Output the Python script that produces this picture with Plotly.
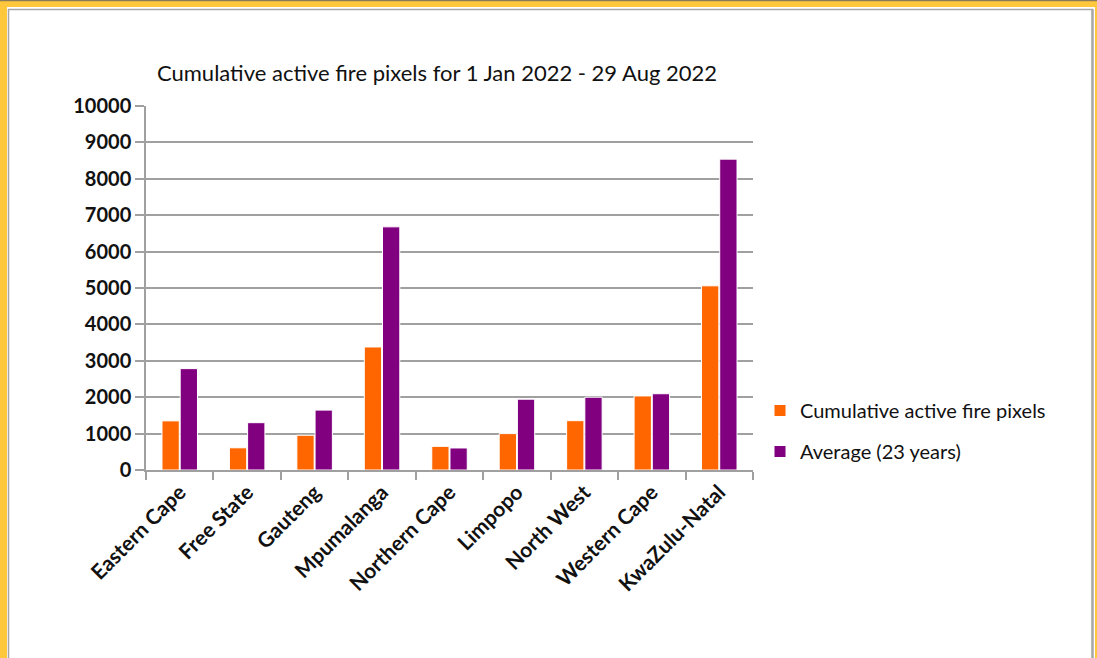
import plotly.graph_objects as go

provinces = ["Eastern Cape", "Free State", "Gauteng", "Mpumalanga", "Northern Cape",
             "Limpopo", "North West", "Western Cape", "KwaZulu-Natal"]
cumulative_2022 = [1350, 610, 955, 3380, 650, 1000, 1355, 2035, 5060]
average_23y = [2785, 1300, 1645, 6680, 605, 1945, 2000, 2095, 8540]
y_ticks = [0, 1000, 2000, 3000, 4000, 5000, 6000, 7000, 8000, 9000, 10000]

W, H = 1097, 658
L, R, T, B = 146, 344, 106, 188
PW, PH = W - L - R, H - T - B

def px(x):
    return (x - L) / PW

def py(y):
    return (H - B - y) / PH

fig = go.Figure()
fig.add_trace(go.Bar(x=provinces, y=cumulative_2022, name="Cumulative active fire pixels",
                     legendgroup="a",
                     marker=dict(color="#FF6600", line=dict(color="white", width=1))))
fig.add_trace(go.Bar(x=provinces, y=average_23y, name="Average (23 years)",
                     legendgroup="b",
                     marker=dict(color="#800080", line=dict(color="white", width=1))))

shapes = [
    dict(type="rect", xref="paper", yref="paper", x0=px(7), x1=px(1095), y0=py(7), y1=py(700),
         fillcolor="white", line=dict(width=0), layer="below"),
    dict(type="line", xref="paper", yref="paper", x0=px(8.5), x1=px(8.5), y0=py(9), y1=py(700),
         line=dict(color="#A6A6A6", width=1.5), layer="below"),
    dict(type="line", xref="paper", yref="paper", x0=px(8), x1=px(1093), y0=py(9.5), y1=py(9.5),
         line=dict(color="#A6A6A6", width=1.5), layer="below"),
    dict(type="line", xref="paper", yref="paper", x0=px(1092.5), x1=px(1092.5), y0=py(9), y1=py(700),
         line=dict(color="#A6A6A6", width=2.5), layer="below"),
    dict(type="line", xref="paper", yref="paper", x0=0 - L / PW, x1=px(1097), y0=py(0.5), y1=py(0.5),
         line=dict(color="#8A7A5A", width=1.5), layer="below"),
]

fig.update_layout(
    width=W, height=H,
    margin=dict(l=L, r=R, t=T, b=B),
    paper_bgcolor="#FFC83C",
    plot_bgcolor="rgba(0,0,0,0)",
    barmode="group", bargap=0.46, bargroupgap=0.05,
    title=dict(text="Cumulative active fire pixels for 1 Jan 2022 - 29 Aug 2022",
               x=px(437), xanchor="center", xref="paper",
               y=1 - 73 / H, yanchor="middle", yref="container",
               font=dict(family="Lato", size=22, color="#111111")),
    font=dict(family="Lato", color="#111111"),
    shapes=shapes,
    legend=dict(x=px(760), xanchor="left", y=py(431), yanchor="middle",
                font=dict(family="Lato", size=20, color="#111111"),
                bgcolor="rgba(0,0,0,0)", tracegroupgap=12, itemwidth=30),
    xaxis=dict(tickangle=-45, tickfont=dict(family="Lato", size=21, weight="bold"),
               showline=True, linecolor="#A0A0A0", linewidth=1.5,
               ticks="outside", ticklen=8, tickcolor="#A0A0A0", tickwidth=1.5,
               tickson="boundaries", showgrid=False),
    yaxis=dict(range=[0, 10000], tickvals=y_ticks, ticktext=[str(v) for v in y_ticks],
               tickfont=dict(family="Lato", size=20, weight="bold"),
               showline=True, linecolor="#A0A0A0", linewidth=1.5,
               ticks="outside", ticklen=9, tickcolor="#A0A0A0", tickwidth=1.5,
               showgrid=True, gridcolor="#A0A0A0", gridwidth=1.5, zeroline=False),
)

fig.write_html("out.html", config={"displayModeBar": False},
               post_script="document.body.style.margin='0';document.body.style.overflow='hidden';")
